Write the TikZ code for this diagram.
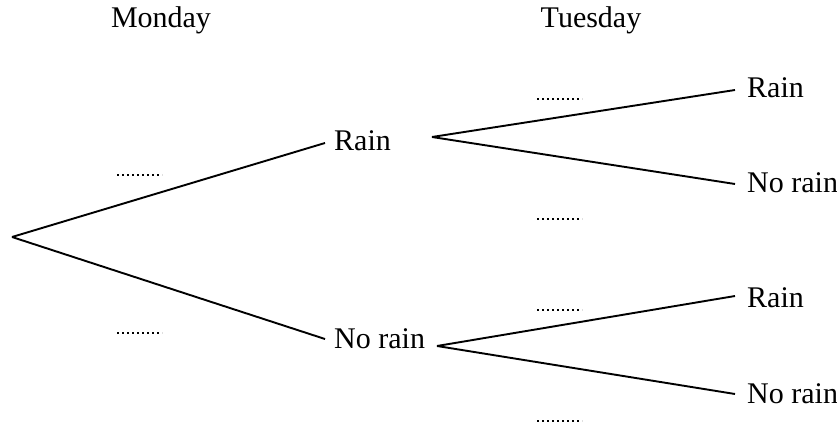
\documentclass[tikz,border=0pt]{standalone}
\usepackage{fontspec}
\setmainfont{Liberation Serif}
\begin{document}
\begin{tikzpicture}[x=1pt,y=-1pt,
  branch/.style={line width=1.9pt},
  lab/.style={font=\fontsize{30}{36}\selectfont, inner sep=0pt, anchor=base west},
  head/.style={font=\fontsize{30}{36}\selectfont, inner sep=0pt, anchor=base},
  blank/.style={line width=2.1pt, dash pattern=on 2.1pt off 2.9pt}]
\useasboundingbox (0,0) rectangle (837,430);
\node[head] (mon) at (161,28) {Monday};
\node[head] (tue) at (591,28) {Tuesday};
\coordinate (root) at (12,237);
\node[lab] (r1) at (334,151) {Rain};
\node[lab] (n1) at (334,348) {No rain};
\node[lab] (rr) at (747,98) {Rain};
\node[lab] (rn) at (747,193) {No rain};
\node[lab] (nr) at (747,307) {Rain};
\node[lab] (nn) at (747,403) {No rain};
\coordinate (r1in) at (325,143);
\coordinate (n1in) at (325,339);
\coordinate (r1out) at (432,137);
\coordinate (n1out) at (437,346);
\coordinate (rrin) at (735,90);
\coordinate (rnin) at (735,184);
\coordinate (nrin) at (735,296);
\coordinate (nnin) at (735,394);
\draw[branch] (root) -- (r1in);
\draw[branch] (root) -- (n1in);
\draw[branch] (r1out) -- (rrin);
\draw[branch] (r1out) -- (rnin);
\draw[branch] (n1out) -- (nrin);
\draw[branch] (n1out) -- (nnin);
\coordinate (d1a) at (117,175); \coordinate (d1b) at (162,175);
\coordinate (d2a) at (117,333); \coordinate (d2b) at (162,333);
\coordinate (d3a) at (537,99); \coordinate (d3b) at (582,99);
\coordinate (d4a) at (537,219); \coordinate (d4b) at (582,219);
\coordinate (d5a) at (537,310); \coordinate (d5b) at (582,310);
\coordinate (d6a) at (537,421); \coordinate (d6b) at (582,421);
\draw[blank] (d1a) -- (d1b);
\draw[blank] (d2a) -- (d2b);
\draw[blank] (d3a) -- (d3b);
\draw[blank] (d4a) -- (d4b);
\draw[blank] (d5a) -- (d5b);
\draw[blank] (d6a) -- (d6b);
\end{tikzpicture}
\end{document}
